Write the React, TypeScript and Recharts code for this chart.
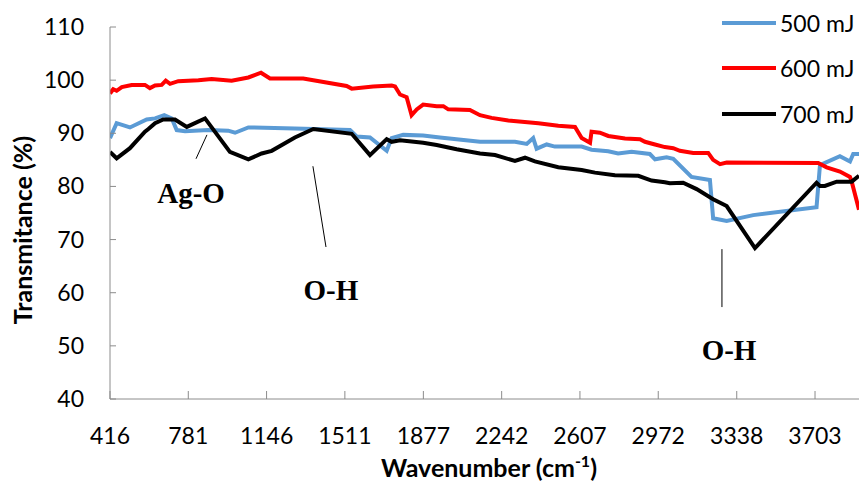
import React from "react";
import {
  LineChart,
  Line,
  XAxis,
  YAxis,
  Legend,
  ReferenceLine,
  ReferenceDot,
  Label,
} from "recharts";

// wavenumber (cm-1) / transmittance (%)
const WN_500 = [
  416, 447, 509, 587, 626, 669, 704, 727, 766, 874, 967, 999, 1061, 1278, 1535,
  1566, 1628, 1706, 1729, 1783, 1876, 1954, 2141, 2304, 2359, 2389, 2405, 2452,
  2490, 2615, 2661, 2739, 2785, 2848, 2933, 2957, 3011, 3042, 3127, 3213, 3228,
  3291, 3415, 3710, 3726, 3819, 3866, 3881, 3908,
];
const T_500 = [
  89.1, 91.9, 91.1, 92.6, 92.8, 93.4, 92.8, 90.6, 90.4, 90.6, 90.5, 90.1, 91.1,
  90.9, 90.6, 89.4, 89.2, 86.7, 89.1, 89.7, 89.6, 89.2, 88.4, 88.4, 88.0, 89.1,
  87.1, 87.9, 87.5, 87.5, 86.9, 86.6, 86.2, 86.5, 86.1, 85.1, 85.5, 85.2, 81.8,
  81.2, 74.0, 73.5, 74.6, 76.1, 84.0, 85.7, 84.7, 86.1, 86.1,
];

const WN_600 = [
  416, 431, 447, 471, 517, 579, 602, 626, 657, 676, 696, 734, 828, 890, 983,
  1061, 1120, 1162, 1317, 1519, 1543, 1643, 1729, 1745, 1768, 1799, 1822, 1846,
  1876, 1939, 1970, 1993, 2094, 2141, 2195, 2273, 2413, 2506, 2584, 2615, 2654,
  2661, 2700, 2739, 2817, 2887, 2910, 2957, 3003, 3042, 3073, 3135, 3205, 3228,
  3260, 3291, 3718, 3757, 3819, 3866, 3874, 3908,
];
const T_600 = [
  97.5, 98.3, 98.0, 98.7, 99.1, 99.1, 98.5, 99.0, 99.1, 99.9, 99.3, 99.8, 100.0,
  100.2, 99.9, 100.5, 101.4, 100.3, 100.3, 98.9, 98.4, 98.8, 99.0, 98.8, 97.3,
  96.8, 93.4, 94.5, 95.4, 95.1, 95.1, 94.5, 94.4, 93.4, 92.9, 92.4, 91.9, 91.4,
  91.2, 89.1, 88.2, 90.3, 90.1, 89.5, 89.0, 88.9, 88.4, 87.9, 87.4, 87.2, 86.7,
  86.3, 86.3, 85.0, 84.2, 84.5, 84.4, 83.6, 82.8, 81.8, 80.9, 75.6,
];

const WN_700 = [
  416, 447, 509, 579, 595, 626, 664, 719, 774, 859, 975, 1061, 1123, 1170, 1278,
  1364, 1543, 1628, 1706, 1729, 1768, 1876, 1939, 2032, 2141, 2211, 2304, 2351,
  2397, 2506, 2615, 2677, 2770, 2879, 2941, 3003, 3026, 3088, 3151, 3228, 3291,
  3423, 3710, 3726, 3749, 3804, 3874, 3908,
];
const T_700 = [
  86.5, 85.3, 87.2, 90.3, 90.8, 91.9, 92.6, 92.6, 91.2, 92.8, 86.5, 85.1, 86.2,
  86.7, 89.2, 90.8, 89.9, 85.9, 88.9, 88.4, 88.7, 88.2, 87.8, 87.0, 86.2, 85.9,
  84.8, 85.4, 84.7, 83.6, 83.1, 82.6, 82.1, 82.0, 81.1, 80.8, 80.6, 80.7, 79.5,
  77.6, 76.3, 68.4, 80.7, 80.1, 80.1, 80.9, 80.9, 82.0,
];

const X_TICKS = [416, 781, 1146, 1511, 1877, 2242, 2607, 2972, 3338, 3703];
const Y_TICKS = [40, 50, 60, 70, 80, 90, 100, 110];

const SERIES = [
  { name: "500 mJ", color: "#5b9bd5", wn: WN_500, t: T_500 },
  { name: "600 mJ", color: "#ff0000", wn: WN_600, t: T_600 },
  { name: "700 mJ", color: "#000000", wn: WN_700, t: T_700 },
];

// peak labels with their pointer lines
const NOTES = [
  { text: "Ag-O", x: 794, y: 78.8, from: [817, 85.2], to: [868, 89.7] },
  { text: "O-H", x: 1446, y: 60.5, from: [1362, 83.8], to: [1423, 68.6] },
  { text: "O-H", x: 3302, y: 49.2, from: [3269, 68.2], to: [3269, 57.3] },
];

const AXIS = "#8c8c8c";
const FONT = "Lato, 'Open Sans', sans-serif";

const XTick = (props: any) => {
  const { x, y, payload } = props;
  return (
    <g>
      <line x1={x} x2={x} y1={y} y2={y - 8} stroke={AXIS} />
      <text
        x={x}
        y={y + 45}
        textAnchor="middle"
        fontFamily={FONT}
        fontSize={23}
        fill="#000"
      >
        {payload.value}
      </text>
    </g>
  );
};

const YTick = (props: any) => {
  const { x, y, payload } = props;
  return (
    <g>
      <line x1={x} x2={x + 6} y1={y} y2={y} stroke={AXIS} />
      <text
        x={x - 26}
        y={y + 8}
        textAnchor="end"
        fontFamily={FONT}
        fontSize={23}
        fill="#000"
      >
        {payload.value}
      </text>
    </g>
  );
};

const LegendBox = () => (
  <div style={{ fontFamily: FONT, fontSize: 23, color: "#000" }}>
    {SERIES.map((s) => (
      <div
        key={s.name}
        style={{ display: "flex", alignItems: "center", height: 45.5 }}
      >
        <span
          style={{
            display: "inline-block",
            width: 54,
            height: 4,
            background: s.color,
            marginRight: 4,
          }}
        />
        <span style={{ whiteSpace: "nowrap" }}>{s.name}</span>
      </div>
    ))}
  </div>
);

export default function App() {
  return (
    <div
      style={{
        position: "absolute",
        left: 0,
        top: 0,
        width: 859,
        height: 487,
        overflow: "hidden",
        background: "#fff",
      }}
    >
      <LineChart
        width={859}
        height={487}
        margin={{ top: 27, right: 0, bottom: 0, left: 0 }}
      >
        <XAxis
          type="number"
          dataKey="x"
          domain={[416, 3908]}
          ticks={X_TICKS}
          allowDataOverflow
          height={88}
          axisLine={{ stroke: AXIS }}
          tickLine={false}
          tickSize={0}
          tickMargin={0}
          tick={XTick}
          interval={0}
        >
          <Label
            content={(p: any) => {
              const vb = p.viewBox;
              return (
                <text
                  x={489}
                  y={vb.y + 78}
                  textAnchor="middle"
                  fontFamily={FONT}
                  fontWeight="bold"
                  fontSize={25}
                  fill="#000"
                >
                  Wavenumber (cm
                  <tspan dy={-10} fontSize={16}>
                    -1
                  </tspan>
                  <tspan dy={10}>)</tspan>
                </text>
              );
            }}
          />
        </XAxis>
        <YAxis
          type="number"
          domain={[40, 110]}
          ticks={Y_TICKS}
          width={110}
          axisLine={{ stroke: AXIS }}
          tickLine={false}
          tickSize={0}
          tickMargin={0}
          tick={YTick}
          interval={0}
        >
          <Label
            content={() => (
              <text
                x={22}
                y={230}
                transform="rotate(-90 22 230)"
                textAnchor="middle"
                dominantBaseline="central"
                fontFamily={FONT}
                fontWeight="bold"
                fontSize={25}
                fill="#000"
              >
                Transmitance (%)
              </text>
            )}
          />
        </YAxis>
        <Legend
          layout="horizontal"
          verticalAlign="middle"
          align="center"
          content={LegendBox}
          wrapperStyle={{ top: 0, left: 722, right: "auto", width: 200 }}
        />
        {SERIES.map((s) => (
          <Line
            key={s.name}
            name={s.name}
            data={s.wn.map((w, i) => ({ x: w, y: s.t[i] }))}
            dataKey="y"
            type="linear"
            stroke={s.color}
            strokeWidth={4}
            dot={false}
            activeDot={false}
            isAnimationActive={false}
          />
        ))}
        {NOTES.map((n, i) => (
          <ReferenceLine
            key={`l${i}`}
            segment={[
              { x: n.from[0], y: n.from[1] },
              { x: n.to[0], y: n.to[1] },
            ]}
            stroke="#000"
            strokeWidth={1}
          />
        ))}
        {NOTES.map((n, i) => (
          <ReferenceDot
            key={`t${i}`}
            x={n.x}
            y={n.y}
            r={0}
            fill="none"
            stroke="none"
            label={{
              value: n.text,
              position: "center",
              fontFamily: "'Liberation Serif', 'Times New Roman', serif",
              fontWeight: "bold",
              fontSize: 29,
              fill: "#000",
            }}
          />
        ))}
      </LineChart>
    </div>
  );
}
